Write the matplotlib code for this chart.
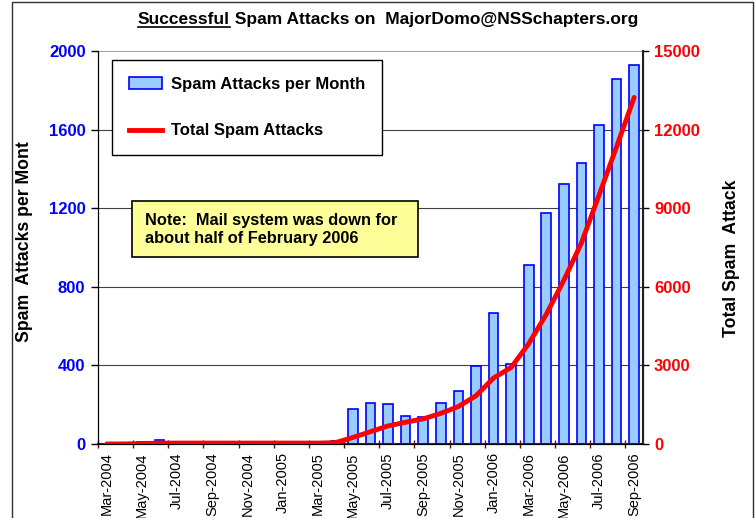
import numpy as np
import pandas as pd
import matplotlib
matplotlib.use("Agg")
import matplotlib.pyplot as plt
from matplotlib.patches import Rectangle, Patch
from matplotlib.lines import Line2D

plt.rcParams['font.family'] = ['Liberation Sans', 'DejaVu Sans']

# Data
months = pd.date_range('2004-03-01', periods=31, freq='MS').strftime('%b-%Y').tolist()
monthly = [0, 3, 10, 22, 0, 0, 0, 0, 0, 0, 0, 0, 0, 15,
           177, 210, 204, 142, 139, 210, 271, 398, 665, 405,
           910, 1174, 1323, 1428, 1625, 1856, 1927]
totals = [0, 3, 13, 35, 35, 35, 35, 35, 35, 35, 35, 35, 35, 50,
          250, 470, 690, 830, 960, 1170, 1430, 1840, 2520, 2920,
          3830, 4950, 6250, 7680, 9500, 11350, 13230]
left_ticks = [0, 400, 800, 1200, 1600, 2000]
right_ticks = [0, 3000, 6000, 9000, 12000, 15000]

W, H = 756, 518
fig = plt.figure(figsize=(W / 100, H / 100), dpi=100)

def fx(x):
    return x / W

def fy(y):
    return 1 - y / H

L, R, T, B = 98, 643, 51, 444
ax = fig.add_axes([fx(L), fy(B), fx(R - L), (B - T) / H])
ax2 = ax.twinx()

x = np.arange(len(months))

# Bars (left axis)
ax.bar(x, monthly, width=0.55, color='#99CCFF', edgecolor='#0000FF', linewidth=1.2, zorder=3)
for v in left_ticks[1:-1]:
    ax.axhline(v, color='#404040', linewidth=0.8, zorder=1)
ax.axhline(2000, color='#909090', linewidth=1.2, zorder=1)
ax.set_xlim(-0.5, len(months) - 0.5)
ax.set_ylim(0, 2000)
ax.set_yticks(left_ticks)
ax.set_yticklabels([str(v) for v in left_ticks], color='#0000FF', fontweight='bold', fontsize=12)
ax.tick_params(axis='y', direction='out', length=5, width=1, pad=4)

# x axis: ticks between every 2 categories, labels on categories
ax.set_xticks(np.arange(-0.5, len(months), 2))
ax.set_xticklabels([])
ax.tick_params(axis='x', which='major', direction='inout', length=6, width=1, color='#800000')
ax.set_xticks(x[::2], minor=True)
ax.set_xticklabels(months[::2], minor=True, rotation=90, fontsize=10.5)
ax.tick_params(axis='x', which='minor', length=0, pad=6)

ax.spines['top'].set_visible(False)
ax2.spines['top'].set_visible(False)
ax.spines['bottom'].set_color('#800000')
ax.spines['bottom'].set_linewidth(1.5)
ax.spines['bottom'].set_zorder(5)
ax.spines['left'].set_color('black')
ax2.spines['right'].set_color('#202020')
ax2.spines['right'].set_linewidth(1.5)

# Cumulative line (right axis)
ax2.plot(x, totals, color='#FF0000', linewidth=3.5, solid_capstyle='round',
         solid_joinstyle='round', zorder=4)
ax2.set_ylim(0, 15000)
ax2.set_yticks(right_ticks)
ax2.set_yticklabels([str(v) for v in right_ticks], color='#FF0000', fontweight='bold', fontsize=12)
ax2.tick_params(axis='y', direction='out', length=4, width=1, pad=4)

# Legend
handles = [Patch(facecolor='#99CCFF', edgecolor='#0000FF', linewidth=1.2),
           Line2D([0], [0], color='#FF0000', linewidth=3.5)]
leg = ax2.legend(handles, ['Spam Attacks per Month', 'Total Spam Attacks'],
                 loc='upper left', bbox_to_anchor=((112 - L) / (R - L), (B - 60) / (B - T)),
                 frameon=True, fancybox=False, edgecolor='black', framealpha=1,
                 prop={'weight': 'bold', 'size': 12}, labelspacing=1.9,
                 handlelength=2.0, handletextpad=0.55, borderpad=1.0, borderaxespad=0)
leg.get_frame().set_linewidth(1)

# Note box
fig.add_artist(Rectangle((fx(132), fy(257)), fx(418 - 132), (257 - 201) / H,
                         transform=fig.transFigure, facecolor='#FFFF99',
                         edgecolor='black', linewidth=1.2, zorder=10))
fig.text(fx(145), fy(229), 'Note:  Mail system was down for\nabout half of February 2006',
         ha='left', va='center', fontsize=11.8, fontweight='bold', linespacing=1.25, zorder=11)

# Axis titles
fig.text(fx(25), fy(242), 'Spam  Attacks per Mont', rotation=90, ha='center', va='center',
         fontsize=12.7, fontweight='bold')
fig.text(fx(731), fy(258), 'Total Spam  Attack', rotation=90, ha='center', va='center',
         fontsize=12.7, fontweight='bold')

# Title with underlined first word
t1 = fig.text(fx(138), fy(24), 'Successful', ha='left', va='baseline', fontsize=12.5, fontweight='bold')
fig.canvas.draw()
bb = t1.get_window_extent()
fig.text(bb.x1 / W, fy(24), ' Spam Attacks on  MajorDomo@NSSchapters.org', ha='left',
         va='baseline', fontsize=12.5, fontweight='bold')
fig.add_artist(Line2D([bb.x0 / W, bb.x1 / W], [fy(27), fy(27)], color='black',
                      linewidth=1.2, transform=fig.transFigure))

# Chart area border
fig.add_artist(Rectangle((fx(12), -0.01), fx(753 - 12), 1.01 - 1.5 / H,
                         transform=fig.transFigure, fill=False, edgecolor='#303030',
                         linewidth=1))

fig.savefig('out.png', dpi=100)
